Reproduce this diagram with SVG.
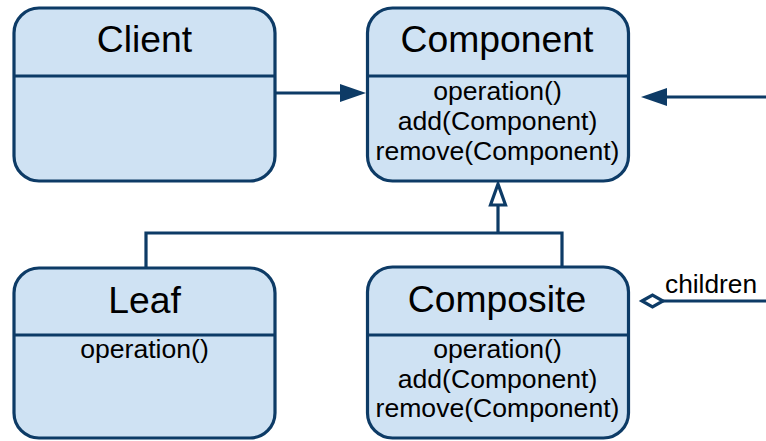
<svg xmlns="http://www.w3.org/2000/svg" width="766" height="441" viewBox="0 0 766 441">
<defs>
<style>
.box{fill:#cfe2f3;stroke:#0d3b66;stroke-width:3.2}
.sep{stroke:#0d3b66;stroke-width:3.2}
.ln{fill:none;stroke:#0d3b66;stroke-width:3.2}
.title{font-family:"Liberation Sans",Arial,sans-serif;font-size:37.3px;fill:#000;text-anchor:middle}
.m{font-family:"Liberation Sans",Arial,sans-serif;font-size:26.6px;fill:#000;text-anchor:middle}
.lbl{font-family:"Liberation Sans",Arial,sans-serif;font-size:26.3px;fill:#000}
</style>
</defs>
<rect width="766" height="441" fill="#fff"/>
<g id="connectors">
<line class="ln" x1="275" y1="93" x2="343" y2="93"/>
<polygon points="366,93 340,84 340,102" fill="#0d3b66"/>
<line class="ln" x1="664" y1="97" x2="766" y2="97"/>
<polygon points="641,97 667,88 667,106" fill="#0d3b66"/>
<polyline class="ln" points="146,268 146,233 562,233 562,267"/>
<line class="ln" x1="498" y1="233" x2="498" y2="205"/>
<polygon points="498,184 490.5,205 505.5,205" fill="#fff" stroke="#0d3b66" stroke-width="3.2" stroke-linejoin="miter"/>
<line class="ln" x1="663" y1="301" x2="766" y2="301"/>
<polygon points="642,301 652.5,295 663,301 652.5,307" fill="#fff" stroke="#0d3b66" stroke-width="3.2"/>
<text class="lbl" x="665" y="293">children</text>
</g>
<g id="client">
<rect class="box" x="14" y="8" width="261" height="173" rx="25"/>
<line class="sep" x1="14" y1="76" x2="275" y2="76"/>
<text class="title" x="144.5" y="52">Client</text>
</g>
<g id="component">
<rect class="box" x="367.5" y="8" width="261" height="173" rx="25"/>
<line class="sep" x1="367.5" y1="76" x2="628.5" y2="76"/>
<text class="title" x="497" y="52">Component</text>
<text class="m" x="497.5" y="100">operation()</text>
<text class="m" x="497.5" y="130">add(Component)</text>
<text class="m" x="497.5" y="160">remove(Component)</text>
</g>
<g id="leaf">
<rect class="box" x="14" y="268" width="261" height="170" rx="25"/>
<line class="sep" x1="14" y1="335" x2="275" y2="335"/>
<text class="title" x="144.5" y="313">Leaf</text>
<text class="m" x="144.5" y="358">operation()</text>
</g>
<g id="composite">
<rect class="box" x="367.5" y="267" width="261" height="171" rx="25"/>
<line class="sep" x1="367.5" y1="335" x2="628.5" y2="335"/>
<text class="title" x="497" y="312">Composite</text>
<text class="m" x="497.5" y="358">operation()</text>
<text class="m" x="497.5" y="388">add(Component)</text>
<text class="m" x="497.5" y="417">remove(Component)</text>
</g>
</svg>
